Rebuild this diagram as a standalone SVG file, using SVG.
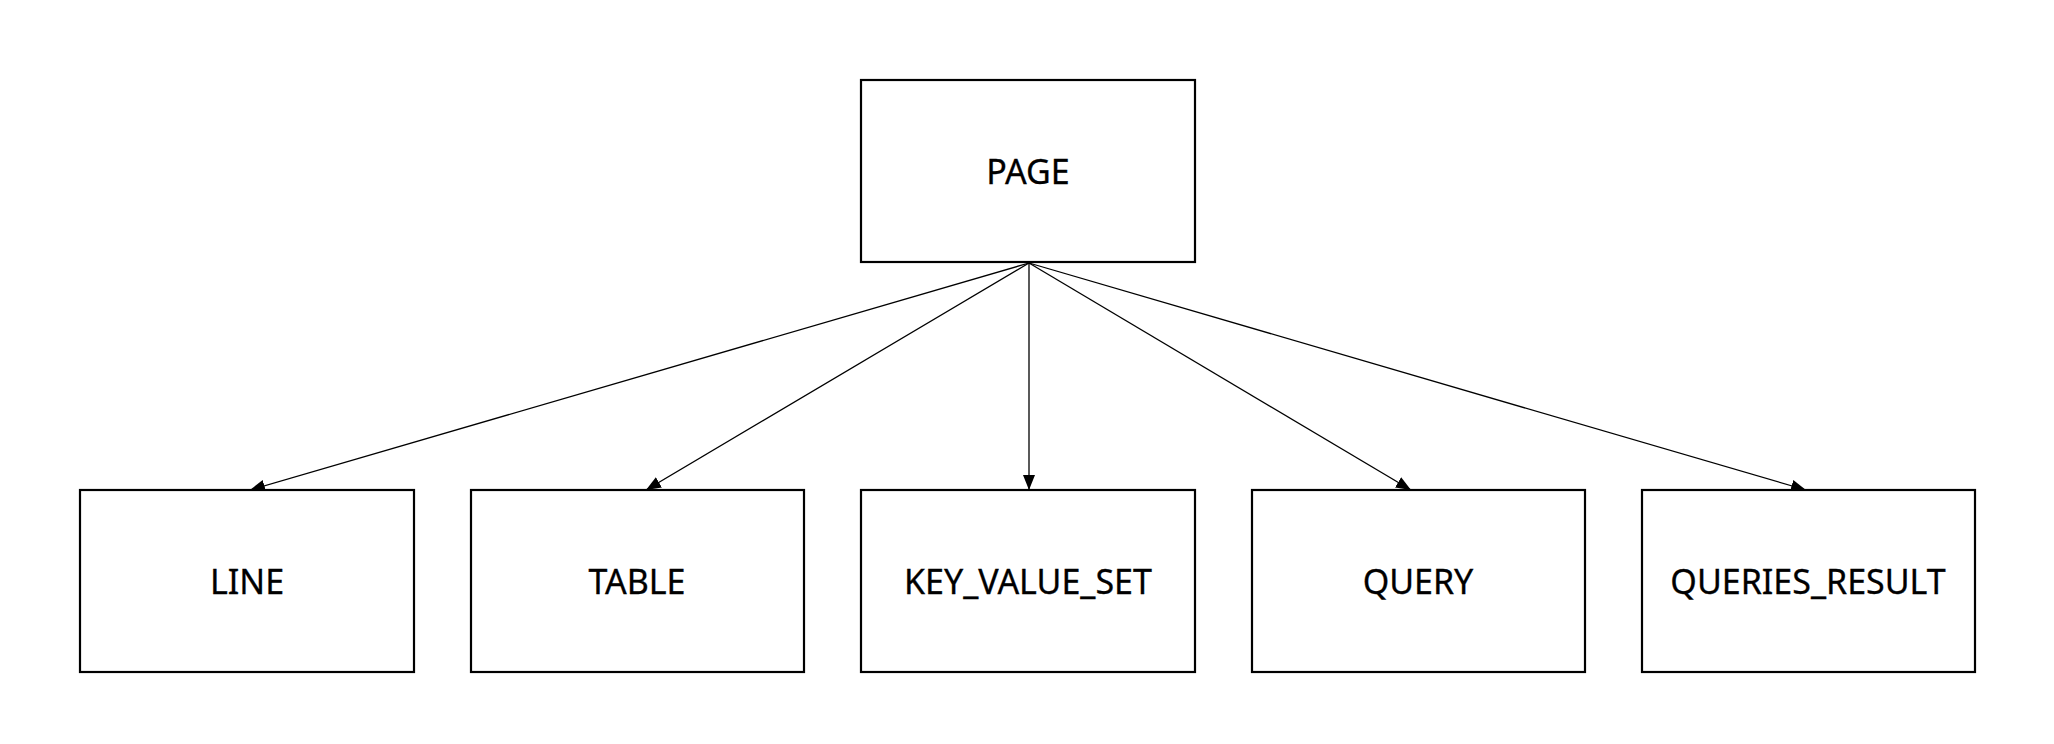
<svg xmlns="http://www.w3.org/2000/svg" width="2054" height="744" viewBox="0 0 2054 744">
<style>
.box{fill:#fff;stroke:#000;stroke-width:2.2}
.lbl{font-family:"Noto Sans","Open Sans",sans-serif;font-size:34px;fill:#000;stroke:#000;stroke-width:0.3;text-anchor:middle}
.edge{stroke:#000;stroke-width:1.3;fill:none;marker-end:url(#arr)}
</style>
<defs>
<marker id="arr" markerWidth="15" markerHeight="12" refX="15" refY="6" orient="auto" markerUnits="userSpaceOnUse">
<path d="M0,0 L15,6 L0,12 Z" fill="#000"/>
</marker>
</defs>
<rect width="2054" height="744" fill="#fff"/>
<g id="connectors">
<line class="edge" x1="1029" y1="263" x2="250" y2="490"/>
<line class="edge" x1="1029" y1="263" x2="646" y2="490"/>
<line class="edge" x1="1029" y1="263" x2="1029" y2="490"/>
<line class="edge" x1="1029" y1="263" x2="1411" y2="490"/>
<line class="edge" x1="1029" y1="263" x2="1806" y2="490"/>
</g>
<g id="page"><rect class="box" x="861" y="80" width="334" height="182"/><text class="lbl" x="1028" y="184">PAGE</text></g>
<g id="line"><rect class="box" x="80" y="490" width="334" height="182"/><text class="lbl" x="247" y="594">LINE</text></g>
<g id="table"><rect class="box" x="471" y="490" width="333" height="182"/><text class="lbl" x="637" y="594">TABLE</text></g>
<g id="key_value_set"><rect class="box" x="861" y="490" width="334" height="182"/><text class="lbl" x="1028" y="594">KEY_VALUE_SET</text></g>
<g id="query"><rect class="box" x="1252" y="490" width="333" height="182"/><text class="lbl" x="1418" y="594">QUERY</text></g>
<g id="queries_result"><rect class="box" x="1642" y="490" width="333" height="182"/><text class="lbl" x="1808" y="594">QUERIES_RESULT</text></g>
</svg>
